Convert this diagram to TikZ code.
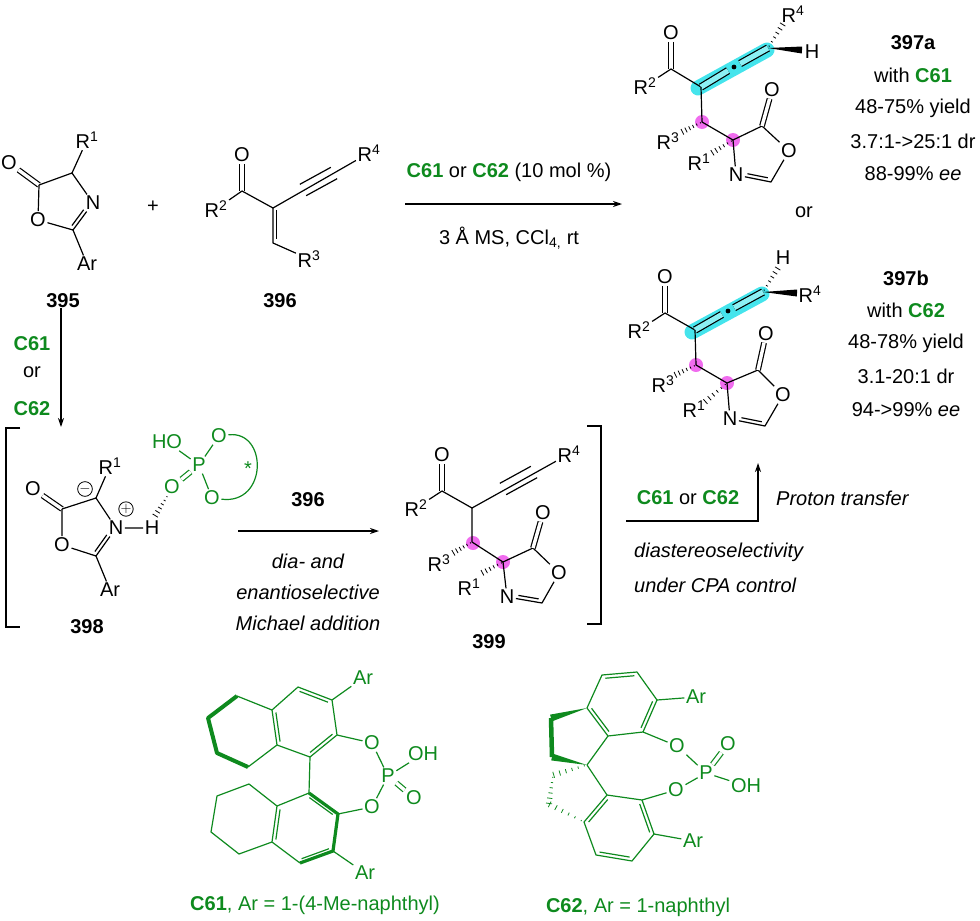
\documentclass[tikz,border=0pt]{standalone}
\usepackage{fontspec}
\setmainfont{Liberation Sans}
\usetikzlibrary{calc,arrows.meta}

\definecolor{cpagreen}{HTML}{0E8A1E}
\definecolor{allenecyan}{HTML}{45E4EC}
\definecolor{allenecore}{HTML}{8CF0F4}
\definecolor{centermagenta}{HTML}{F06CEE}

\newcommand{\Rn}[1]{R\textsuperscript{#1}}
\newcommand{\cat}[1]{\textcolor{cpagreen}{\textbf{#1}}}
% line beside a bond, on the left going from #2 to #3
\newcommand{\inbond}[3][bond]{\draw[#1] ($(#2)!3.5pt!90:(#3)$) -- ($(#3)!3.5pt!-90:(#2)$);}
\newcommand{\outbond}[3][bond]{\draw[#1] ($(#2)!6.5pt!90:(#3)$) -- ($(#3)!6.5pt!-90:(#2)$);\draw[#1] ($(#2)!6.5pt!-90:(#3)$) -- ($(#3)!6.5pt!90:(#2)$);}
\newcommand{\hashbond}[3][bond]{\foreach \hpos/\hwid in {.08/.6,.26/1.1,.44/1.6,.62/2.1,.80/2.6,.98/3.1}{\draw[#1,line width=.8pt] ($(#2)!\hpos!(#3)!\hwid pt!90:(#3)$) -- ($(#2)!\hpos!(#3)!\hwid pt!-90:(#3)$);}}
\newcommand{\wedgebond}[3][black]{\fill[#1] (#2) -- ($(#3)!3.5pt!90:(#2)$) -- ($(#3)!3.5pt!-90:(#2)$) -- cycle;}

\begin{document}
\begin{tikzpicture}[x=1pt,y=-1pt,>={Stealth[length=9pt,width=6pt]},
	atom/.style={inner sep=1.5pt,font=\fontsize{20}{24}\selectfont},
	gatom/.style={atom,text=cpagreen},
	txt/.style={inner sep=0pt,font=\fontsize{20}{24}\selectfont},
	itxt/.style={txt,font=\fontsize{20}{24}\selectfont\itshape},
	cpd/.style={txt,font=\fontsize{20}{24}\selectfont\bfseries},
	charge/.style={circle,draw,inner sep=0pt,minimum size=14pt,line width=.8pt,font=\fontsize{15}{15}\selectfont},
	bond/.style={line width=1.2pt,line join=round},
	dbl/.style={bond,double,double distance=3.4pt},
	allene/.style={dbl,double=allenecore,double distance=5.2pt},
	gbond/.style={bond,cpagreen},
	gdbl/.style={dbl,draw=cpagreen},
	rxn/.style={line width=1.2pt,->},
	brk/.style={line width=1.2pt}
	]
	\useasboundingbox (0,0) rectangle (980,921);

	% highlights
	\draw[allenecyan,line width=15pt,line cap=round] (698,88) -- (767,50);
	\draw[allenecyan,line width=15pt,line cap=round] (692,332) -- (762,294);
	\fill[centermagenta] (702,122) circle (7) (733,140) circle (7);
	\fill[centermagenta] (696,365) circle (7) (727,383) circle (7);
	\fill[centermagenta] (473,543) circle (7) (503,562) circle (7);

	% 395
	\node (poxo) [atom] at (9,163) {O};
	\coordinate (pcfive) at (39,185);
	\coordinate (pcfour) at (72,173);
	\node (prone) [atom] at (87,140) {\Rn{1}};
	\node (pn) [atom] at (93,203) {N};
	\coordinate (pctwo) at (73,230);
	\node (pox) [atom] at (38,220) {O};
	\node (par) [atom] at (87,264) {Ar};
	\draw[dbl] (poxo) -- (pcfive);
	\draw[bond] (pcfive) -- (pcfour) -- (pn);
	\draw[bond] (pcfour) -- (prone);
	\draw[bond] (pcfive) -- (pox) -- (pctwo) -- (pn);
	\inbond[bond,shorten <=3pt,shorten >=11pt]{pctwo}{pn}
	\draw[bond] (pctwo) -- (par);
	\node (lblp) [cpd] at (63,301) {395};
	\node (plus) [txt] at (153,207) {+};

	% 396
	\node (eoxo) [atom] at (242,155) {O};
	\coordinate (eco) at (242,191);
	\node (ertwo) [atom] at (216,209) {\Rn{2}};
	\coordinate (ecalpha) at (273,208);
	\coordinate (ech) at (273,243);
	\node (erthree) [atom] at (309,259) {\Rn{3}};
	\coordinate (etripa) at (303,190);
	\coordinate (etripb) at (334,173);
	\node (erfour) [atom] at (369,153) {\Rn{4}};
	\draw[dbl] (eoxo) -- (eco);
	\draw[bond] (ertwo) -- (eco) -- (ecalpha) -- (ech) -- (erthree);
	\draw[bond] (ecalpha) -- (erfour);
	\outbond{etripa}{etripb}
	\inbond[bond,shorten <=2pt,shorten >=4pt]{ecalpha}{ech}
	\node (lble) [cpd] at (280,301) {396};

	% top arrow
	\coordinate (toparrowa) at (405,204);
	\coordinate (toparrowb) at (622,204);
	\draw[rxn] (toparrowa) -- (toparrowb);
	\node (topcat) [txt] at (509,172) {\cat{C61} or \cat{C62} (10 mol \%)};
	\node (topcond) [txt] at (509,238) {3 Å MS, CCl\textsubscript{4,} rt};

	% 397a
	\node (uoxo) [atom] at (671,33) {O};
	\coordinate (uco) at (671,69);
	\node (urtwo) [atom] at (645,86) {\Rn{2}};
	\coordinate (ucalpha) at (701,87);
	\coordinate (umid) at (734,67);
	\coordinate (uend) at (768,48);
	\node (urfour) [atom] at (793,14) {\Rn{4}};
	\node (uh) [atom] at (812,52) {H};
	\coordinate (uhwedge) at (802,50);
	\coordinate (urfourh) at (783,24);
	\coordinate (uch) at (702,122);
	\node (urthree) [atom] at (668,141) {\Rn{3}};
	\coordinate (urthreeh) at (682,132);
	\coordinate (ucfour) at (733,140);
	\node (urone) [atom] at (699,162) {\Rn{1}};
	\coordinate (uroneh) at (712,153);
	\node (un) [atom] at (736,175) {N};
	\coordinate (ucf) at (771,182);
	\node (uox) [atom] at (789,151) {O};
	\coordinate (ucring) at (762,126);
	\node (uoxob) [atom] at (772,90) {O};
	\draw[dbl] (uoxo) -- (uco);
	\draw[bond] (urtwo) -- (uco) -- (ucalpha);
	\draw[allene,shorten >=7pt] (ucalpha) -- (umid);
	\draw[allene,shorten <=7pt] (umid) -- (uend);
	\fill (umid) circle (2.4);
	\wedgebond{uend}{uhwedge}
	\hashbond{uend}{urfourh}
	\draw[bond] (ucalpha) -- (uch) -- (ucfour) -- (ucring);
	\hashbond{uch}{urthreeh}
	\hashbond{ucfour}{uroneh}
	\draw[bond] (ucfour) -- (un) -- (ucf) -- (uox) -- (ucring);
	\inbond[bond,shorten <=11pt,shorten >=4pt]{un}{ucf}
	\draw[dbl] (ucring) -- (uoxob);
	\node (oralt) [txt] at (804,212) {or};

	% 397b
	\node (voxo) [atom] at (665,277) {O};
	\coordinate (vco) at (665,313);
	\node (vrtwo) [atom] at (639,330) {\Rn{2}};
	\coordinate (vcalpha) at (695,330);
	\coordinate (vmid) at (728,311);
	\coordinate (vend) at (763,292);
	\node (vh) [atom] at (783,258) {H};
	\coordinate (vhhash) at (778,268);
	\node (vrfour) [atom] at (810,294) {\Rn{4}};
	\coordinate (vrwedge) at (797,293);
	\coordinate (vch) at (696,365);
	\node (vrthree) [atom] at (663,384) {\Rn{3}};
	\coordinate (vrthreeh) at (675,375);
	\coordinate (vcfour) at (727,383);
	\node (vrone) [atom] at (694,409) {\Rn{1}};
	\coordinate (vroneh) at (705,402);
	\node (vn) [atom] at (730,419) {N};
	\coordinate (vcf) at (765,426);
	\node (vox) [atom] at (783,395) {O};
	\coordinate (vcring) at (758,370);
	\node (voxob) [atom] at (766,334) {O};
	\draw[dbl] (voxo) -- (vco);
	\draw[bond] (vrtwo) -- (vco) -- (vcalpha);
	\draw[allene,shorten >=7pt] (vcalpha) -- (vmid);
	\draw[allene,shorten <=7pt] (vmid) -- (vend);
	\fill (vmid) circle (2.4);
	\wedgebond{vend}{vrwedge}
	\hashbond{vend}{vhhash}
	\draw[bond] (vcalpha) -- (vch) -- (vcfour) -- (vcring);
	\hashbond{vch}{vrthreeh}
	\hashbond{vcfour}{vroneh}
	\draw[bond] (vcfour) -- (vn) -- (vcf) -- (vox) -- (vcring);
	\inbond[bond,shorten <=11pt,shorten >=4pt]{vn}{vcf}
	\draw[dbl] (vcring) -- (voxob);

	% data on the right
	\node (dataaa) [cpd] at (913,43) {397a};
	\node (dataab) [txt] at (913,75) {with \cat{C61}};
	\node (dataac) [txt] at (913,108) {48-75\% yield};
	\node (dataad) [txt] at (913,141) {3.7:1->25:1 dr};
	\node (dataae) [txt] at (913,174) {88-99\% \textit{ee}};
	\node (databa) [cpd] at (906,278) {397b};
	\node (databb) [txt] at (906,310) {with \cat{C62}};
	\node (databc) [txt] at (906,343) {48-78\% yield};
	\node (databd) [txt] at (906,376) {3.1-20:1 dr};
	\node (databe) [txt] at (906,410) {94->99\% \textit{ee}};

	% left arrow
	\coordinate (leftarrowa) at (61,308);
	\coordinate (leftarrowb) at (61,427);
	\draw[rxn] (leftarrowa) -- (leftarrowb);
	\node (leftcata) [txt] at (32,344) {\cat{C61}};
	\node (leftor) [txt] at (32,372) {or};
	\node (leftcatb) [txt] at (32,409) {\cat{C62}};

	% 398 with the acid
	\draw[brk] (20,428) -- (6,428) -- (6,627) -- (20,627);
	\node (zoxo) [atom] at (33,489) {O};
	\coordinate (zcfive) at (62,509);
	\coordinate (zcfour) at (96,498);
	\node (zrone) [atom] at (110,466) {\Rn{1}};
	\node (zminus) [charge] at (85,489) {$-$};
	\node (zn) [atom] at (116,528) {N};
	\node (zplus) [charge] at (126,509) {$+$};
	\node (zh) [atom] at (152,528) {H};
	\coordinate (zctwo) at (96,556);
	\node (zox) [atom] at (62,545) {O};
	\node (zar) [atom] at (110,590) {Ar};
	\draw[dbl] (zoxo) -- (zcfive);
	\draw[bond] (zcfive) -- (zcfour) -- (zn) -- (zh);
	\draw[bond] (zcfour) -- (zrone);
	\draw[bond] (zcfive) -- (zox) -- (zctwo) -- (zn);
	\inbond[bond,shorten <=3pt,shorten >=11pt]{zctwo}{zn}
	\draw[bond] (zctwo) -- (zar);
	\node (lblz) [cpd] at (87,627) {398};
	\node (gho) [gatom] at (167,442) {HO};
	\node (gp) [gatom] at (199,465) {P};
	\node (gdo) [gatom] at (172,487) {O};
	\node (gotop) [gatom] at (219,436) {O};
	\node (gobot) [gatom] at (212,498) {O};
	\node (gstar) [txt,text=cpagreen] at (248,469) {*};
	\draw[gbond] (gho) -- (gp) -- (gotop);
	\draw[gbond] (gp) -- (gobot);
	\draw[gdbl] (gp) -- (gdo);
	\draw[gbond] (gotop) .. controls (268,430) and (268,505) .. (gobot);
	\coordinate (hbonda) at (168,495);
	\coordinate (hbondb) at (155,516);
	\hashbond{hbonda}{hbondb}

	% middle arrow
	\coordinate (midarrowa) at (238,531);
	\coordinate (midarrowb) at (379,531);
	\draw[rxn] (midarrowa) -- (midarrowb);
	\node (midcpd) [cpd] at (308,500) {396};
	\node (midtxta) [itxt] at (308,561) {dia- and};
	\node (midtxtb) [itxt] at (308,592) {enantioselective};
	\node (midtxtc) [itxt] at (308,623) {Michael addition};

	% 399
	\node (moxo) [atom] at (442,455) {O};
	\coordinate (mco) at (442,491);
	\node (mrtwo) [atom] at (416,508) {\Rn{2}};
	\coordinate (mcalpha) at (472,508);
	\coordinate (mtripa) at (503,489);
	\coordinate (mtripb) at (534,472);
	\node (mrfour) [atom] at (569,454) {\Rn{4}};
	\coordinate (mch) at (472,542);
	\node (mrthree) [atom] at (439,563) {\Rn{3}};
	\coordinate (mrthreeh) at (453,553);
	\coordinate (mcfour) at (503,562);
	\node (mrone) [atom] at (469,587) {\Rn{1}};
	\coordinate (mroneh) at (482,573);
	\node (mn) [atom] at (507,597) {N};
	\coordinate (mcf) at (542,603);
	\node (mox) [atom] at (559,573) {O};
	\coordinate (mcring) at (533,548);
	\node (moxob) [atom] at (543,513) {O};
	\draw[dbl] (moxo) -- (mco);
	\draw[bond] (mrtwo) -- (mco) -- (mcalpha) -- (mrfour);
	\outbond{mtripa}{mtripb}
	\draw[bond] (mcalpha) -- (mch) -- (mcfour) -- (mcring);
	\hashbond{mch}{mrthreeh}
	\hashbond{mcfour}{mroneh}
	\draw[bond] (mcfour) -- (mn) -- (mcf) -- (mox) -- (mcring);
	\inbond[bond,shorten <=11pt,shorten >=4pt]{mn}{mcf}
	\draw[dbl] (mcring) -- (moxob);
	\node (lblm) [cpd] at (489,642) {399};
	\draw[brk] (587,426) -- (601,426) -- (601,624) -- (587,624);

	% right arrow
	\coordinate (rightarrowa) at (626,521);
	\coordinate (rightarrowb) at (758,521);
	\coordinate (rightarrowc) at (758,463);
	\draw[rxn] (rightarrowa) -- (rightarrowb) -- (rightarrowc);
	\node (rightcat) [txt] at (688,498) {\cat{C61} or \cat{C62}};
	\node (rightpt) [itxt,anchor=west] at (776,498) {Proton transfer};
	\node (righttxta) [itxt,anchor=west] at (634,552) {diastereoselectivity};
	\node (righttxtb) [itxt,anchor=west] at (634,585) {under CPA control};

	% C61
	\node (karu) [gatom] at (363,678) {Ar};
	\coordinate (kcthree) at (332,700);
	\coordinate (kch) at (298,687);
	\coordinate (kcfa) at (272,710);
	\coordinate (kceight) at (277,745);
	\coordinate (kcone) at (310,757);
	\coordinate (kctwo) at (337,735);
	\coordinate (khexa) at (237,696);
	\coordinate (khexb) at (208,718);
	\coordinate (khexc) at (217,753);
	\coordinate (khexd) at (248,767);
	\node (koxu) [gatom] at (372,743) {O};
	\node (kp) [gatom] at (388,776) {P};
	\node (koh) [gatom] at (423,754) {OH};
	\node (kdo) [gatom] at (414,798) {O};
	\node (koxl) [gatom] at (372,807) {O};
	\coordinate (ldone) at (309,793);
	\coordinate (ldtwo) at (338,814);
	\coordinate (ldthree) at (333,851);
	\coordinate (ldch) at (300,863);
	\coordinate (ldfa) at (272,842);
	\coordinate (ldeight) at (277,806);
	\coordinate (lhexa) at (249,784);
	\coordinate (lhexb) at (217,796);
	\coordinate (lhexc) at (211,832);
	\coordinate (lhexd) at (239,854);
	\node (karl) [gatom] at (365,873) {Ar};
	\draw[gbond] (kctwo) -- (kcthree) -- (kch) -- (kcfa) -- (kceight) -- (kcone) -- (kctwo);
	\inbond[gbond,shorten <=3pt,shorten >=3pt]{kcthree}{kch}
	\inbond[gbond,shorten <=3pt,shorten >=3pt]{kcfa}{kceight}
	\inbond[gbond,shorten <=3pt,shorten >=3pt]{kcone}{kctwo}
	\draw[gbond] (kcthree) -- (karu);
	\draw[gbond] (kcfa) -- (khexa);
	\draw[gbond,line width=4pt] (khexa) -- (khexb) -- (khexc) -- (khexd);
	\draw[gbond] (khexd) -- (kceight);
	\draw[gbond] (kctwo) -- (koxu) -- (kp) -- (koh);
	\draw[gdbl] (kp) -- (kdo);
	\draw[gbond] (kp) -- (koxl) -- (ldtwo);
	\draw[gbond] (kcone) -- (ldone);
	\draw[gbond] (ldone) -- (ldeight) -- (ldfa) -- (ldch);
	\draw[gbond,line width=3.2pt] (ldone) -- (ldtwo) -- (ldthree) -- (ldch);
	\inbond[gbond,shorten <=3pt,shorten >=3pt]{ldeight}{ldfa}
	\inbond[gbond,shorten <=3pt,shorten >=3pt]{ldch}{ldthree}
	\inbond[gbond,shorten <=4pt,shorten >=3pt]{ldtwo}{ldone}
	\draw[gbond] (ldeight) -- (lhexa) -- (lhexb) -- (lhexc) -- (lhexd) -- (ldfa);
	\draw[gbond] (ldthree) -- (karl);
	\node (lblk) [txt,text=cpagreen] at (315,905) {\textbf{C61}, Ar = 1-(4-Me-naphthyl)};

	% C62
	\coordinate (sa) at (587,708);
	\coordinate (sb) at (602,675);
	\coordinate (sc) at (637,672);
	\coordinate (sd) at (657,700);
	\coordinate (se) at (643,732);
	\coordinate (sf) at (608,736);
	\node (saru) [gatom] at (696,697) {Ar};
	\node (soxu) [gatom] at (677,746) {O};
	\node (sp) [gatom] at (706,773) {P};
	\node (sdo) [gatom] at (728,744) {O};
	\node (soh) [gatom] at (746,786) {OH};
	\node (soxl) [gatom] at (676,790) {O};
	\coordinate (sg) at (607,795);
	\coordinate (sh) at (642,800);
	\coordinate (si) at (654,834);
	\coordinate (sj) at (632,861);
	\coordinate (sk) at (596,855);
	\coordinate (sl) at (584,822);
	\node (sarl) [gatom] at (693,841) {Ar};
	\coordinate (sspiro) at (587,765);
	\coordinate (swa) at (551,718);
	\coordinate (swb) at (552,757);
	\coordinate (sha) at (553,775);
	\coordinate (shb) at (549,804);
	\draw[gbond] (sa) -- (sb) -- (sc) -- (sd) -- (se) -- (sf) -- (sa);
	\inbond[gbond,shorten <=3pt,shorten >=3pt]{sc}{sb}
	\inbond[gbond,shorten <=3pt,shorten >=3pt]{sa}{sf}
	\inbond[gbond,shorten <=3pt,shorten >=3pt]{se}{sd}
	\draw[gbond] (sd) -- (saru);
	\draw[gbond] (se) -- (soxu) -- (sp) -- (soh);
	\draw[gdbl] (sp) -- (sdo);
	\draw[gbond] (sp) -- (soxl) -- (sh);
	\draw[gbond] (sf) -- (sspiro) -- (sg);
	\draw[gbond] (sg) -- (sh) -- (si) -- (sj) -- (sk) -- (sl) -- (sg);
	\inbond[gbond,shorten <=3pt,shorten >=3pt]{sg}{sl}
	\inbond[gbond,shorten <=3pt,shorten >=3pt]{sk}{sj}
	\inbond[gbond,shorten <=3pt,shorten >=3pt]{si}{sh}
	\draw[gbond] (si) -- (sarl);
	\wedgebond[cpagreen]{sa}{swa}
	\draw[gbond,line width=4.5pt] (swa) -- (swb);
	\wedgebond[cpagreen]{sspiro}{swb}
	\hashbond[gbond]{sspiro}{sha}
	\hashbond[gbond]{sha}{shb}
	\hashbond[gbond]{sl}{shb}
	\node (lbls) [txt,text=cpagreen] at (638,907) {\textbf{C62}, Ar = 1-naphthyl};
\end{tikzpicture}
\end{document}
